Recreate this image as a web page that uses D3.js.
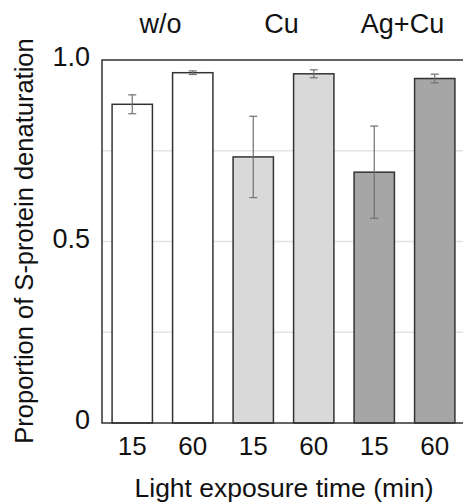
<!DOCTYPE html>
<html>
<head>
<meta charset="utf-8">
<script src="https://cdn.jsdelivr.net/npm/d3@7"></script>
<style>
  body { margin: 0; background: #fff; }
  text { font-family: "Liberation Sans", Arial, sans-serif; fill: #111; }
</style>
</head>
<body>
<div id="chart"></div>
<script>
// data
const groups = ["w/o", "Cu", "Ag+Cu"];
const times = ["15", "60"];
const values = [0.878, 0.965, 0.733, 0.962, 0.691, 0.949];
const errors = [0.026, 0.005, 0.112, 0.011, 0.127, 0.012];
const groupColors = ["#ffffff", "#d9d9d9", "#a6a6a6"];
const yTicks = [0, 0.5, 1.0];
const gridLines = [0.25, 0.5, 0.75];

const width = 463, height = 503;
const margin = {top: 60, right: -2, bottom: 80, left: 102};

// one row per bar
let bars = [];
groups.forEach(function(g, gi) {
  times.forEach(function(t, ti) {
    let i = gi * times.length + ti;
    bars.push({key: g + "_" + t, group: g, gi: gi, time: t, value: values[i], err: errors[i]});
  });
});

let svg = d3.select("#chart")
  .append("svg")
  .attr("width", width)
  .attr("height", height);

let x = d3.scaleBand()
  .domain(bars.map(d => d.key))
  .range([margin.left, width - margin.right])
  .paddingInner(1 / 3)
  .paddingOuter(1 / 6);

let y = d3.scaleLinear()
  .domain([0, 1])
  .range([height - margin.bottom, margin.top]);

// light gridlines
svg.append("g")
  .selectAll("line")
  .data(gridLines)
  .enter()
  .append("line")
  .attr("x1", margin.left)
  .attr("x2", width - margin.right)
  .attr("y1", d => y(d))
  .attr("y2", d => y(d))
  .style("stroke", "#e3e3e3")
  .style("stroke-width", 1.5);

// bars
svg.append("g")
  .selectAll("rect")
  .data(bars)
  .enter()
  .append("rect")
  .attr("x", d => x(d.key))
  .attr("y", d => y(d.value))
  .attr("width", x.bandwidth())
  .attr("height", d => y(0) - y(d.value))
  .style("fill", d => groupColors[d.gi])
  .style("stroke", "#333")
  .style("stroke-width", 1.5);

// error bars
let eb = svg.append("g")
  .selectAll("g")
  .data(bars)
  .enter()
  .append("g")
  .attr("transform", d => `translate(${x(d.key) + x.bandwidth() / 2}, 0)`)
  .style("stroke", "#707070")
  .style("stroke-width", 1.2);

eb.append("line")
  .attr("y1", d => y(d.value + d.err))
  .attr("y2", d => y(d.value - d.err));
eb.append("line")
  .attr("x1", -4).attr("x2", 4)
  .attr("y1", d => y(d.value + d.err))
  .attr("y2", d => y(d.value + d.err));
eb.append("line")
  .attr("x1", -4).attr("x2", 4)
  .attr("y1", d => y(d.value - d.err))
  .attr("y2", d => y(d.value - d.err));

// frame: left, top, bottom
svg.append("path")
  .attr("d", `M${width - margin.right},${y(1)} H${margin.left} V${y(0)} H${width - margin.right}`)
  .style("fill", "none")
  .style("stroke", "#333")
  .style("stroke-width", 1.5);

// y-axis tick labels
let yAxis = svg.append("g")
  .attr("transform", `translate(${margin.left}, -3)`)
  .call(d3.axisLeft(y).tickValues(yTicks).tickSize(0).tickPadding(12)
    .tickFormat(d => d === 0 ? "0" : d3.format(".1f")(d)));
yAxis.select(".domain").remove();
yAxis.selectAll("text")
  .style("font-size", "27px")
  .style("font-family", "'Liberation Sans', Arial, sans-serif")
  .attr("fill", "#111");

// x-axis tick labels (times)
let xAxis = svg.append("g")
  .attr("transform", `translate(0, ${y(0)})`)
  .call(d3.axisBottom(x).tickSize(0).tickPadding(14)
    .tickFormat(k => bars.find(b => b.key === k).time));
xAxis.select(".domain").remove();
xAxis.selectAll("text")
  .style("font-size", "26px")
  .style("font-family", "'Liberation Sans', Arial, sans-serif")
  .attr("fill", "#111");

// group labels above the plot
svg.append("g")
  .selectAll("text")
  .data(groups)
  .enter()
  .append("text")
  .attr("x", function(g) {
    let a = x(g + "_" + times[0]);
    let b = x(g + "_" + times[times.length - 1]) + x.bandwidth();
    return (a + b) / 2 - 2;
  })
  .attr("y", 33)
  .style("text-anchor", "middle")
  .style("font-size", "27px")
  .text(d => d);

// axis titles
svg.append("text")
  .attr("x", 284)
  .attr("y", 497)
  .style("text-anchor", "middle")
  .style("font-size", "26.5px")
  .text("Light exposure time (min)");

svg.append("text")
  .attr("transform", `translate(33, 241) rotate(-90)`)
  .style("text-anchor", "middle")
  .style("font-size", "25.5px")
  .text("Proportion of S-protein denaturation");
</script>
</body>
</html>
